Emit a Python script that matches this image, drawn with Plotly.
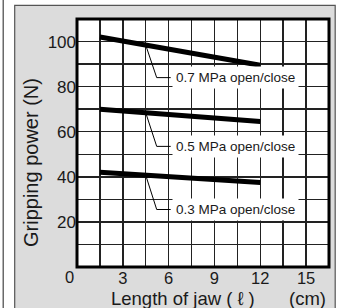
import plotly.graph_objects as go

# ---- data ----
jaw_length = [1.5, 12]                      # cm
series_names = ["0.7 MPa open/close", "0.5 MPa open/close", "0.3 MPa open/close"]
grip_07 = [102, 89.5]
grip_05 = [70, 64.5]
grip_03 = [42, 37.5]
label_y = [84, 53.5, 25.5]                  # label centre values
leader_x = 4.5                              # where leader touches the curve
x_tick_vals = [3, 6, 9, 12, 15]
x_tick_text = ["3", "6", "9", "12", "15"]
y_tick_vals = [20, 40, 60, 80, 100]
y_tick_text = ["20", "40", "60", "80", "100"]

W, H = 343, 308
L, R, T, B = 77.3, 329.3, 18.7, 266.7
PW, PH = R - L, B - T
X0, X1 = 0, 16.5
Y0, Y1 = 0, 110

def px(xp):  # pixel -> paper x
    return (xp - L) / PW

def py(yp):  # pixel -> paper y
    return (B - yp) / PH

def dx(xp):  # pixel -> data x
    return X0 + (xp - L) / PW * (X1 - X0)

TXT = "#1a1a1a"
FONT = "Liberation Sans, Arial"
fig = go.Figure()
series = [grip_07, grip_05, grip_03]
for name, ys in zip(series_names, series):
    fig.add_trace(go.Scatter(x=jaw_length, y=ys, mode="lines", name=name,
                             line=dict(color="black", width=5), showlegend=False,
                             hoverinfo="skip"))

shapes = []
# outer decorations
shapes.append(dict(type="line", xref="paper", yref="paper", x0=px(3.5), x1=px(3.5),
                   y0=py(-5), y1=py(315), line=dict(color="#444", width=1.2), layer="below"))
shapes.append(dict(type="rect", xref="paper", yref="paper", x0=px(15), x1=px(335.5),
                   y0=py(320), y1=py(5), fillcolor="#dcdcdc",
                   line=dict(color="#555", width=1.2), layer="below"))
shapes.append(dict(type="rect", xref="paper", yref="paper", x0=0, x1=1, y0=0, y1=1,
                   fillcolor="white", line=dict(width=0), layer="below"))
shapes.append(dict(type="rect", xref="paper", yref="paper", x0=0, x1=1, y0=0, y1=1,
                   line=dict(color="black", width=3), layer="above"))

annotations = []
for name, ys, ly in zip(series_names, series, label_y):
    t = (leader_x - jaw_length[0]) / (jaw_length[1] - jaw_length[0])
    cy = ys[0] + t * (ys[1] - ys[0])
    xb = dx(157)
    xe = dx(171)
    shapes.append(dict(type="line", xref="x", yref="y", x0=leader_x, y0=cy, x1=xb, y1=ly,
                       line=dict(color="black", width=1), layer="above"))
    shapes.append(dict(type="line", xref="x", yref="y", x0=xb, y0=ly, x1=xe, y1=ly,
                       line=dict(color="black", width=1), layer="above"))
    annotations.append(dict(x=dx(172), y=ly, xref="x", yref="y", xanchor="left",
                            yanchor="middle", text=name, showarrow=False,
                            bgcolor="white", borderpad=3,
                            font=dict(family=FONT, size=13.5, color=TXT)))

annotations.append(dict(x=px(70), y=py(277), xref="paper", yref="paper", text="0",
                        showarrow=False, xanchor="center", yanchor="middle",
                        font=dict(family=FONT, size=16.5, color=TXT)))
annotations.append(dict(x=px(31.5), y=py(162.5), xref="paper", yref="paper",
                        text="Gripping power (N)", textangle=-90, showarrow=False,
                        xanchor="center", yanchor="middle",
                        font=dict(family=FONT, size=20, color=TXT)))
annotations.append(dict(x=px(183), y=py(298), xref="paper", yref="paper",
                        text="Length of jaw ( ℓ )", showarrow=False,
                        xanchor="center", yanchor="middle",
                        font=dict(family=FONT, size=18.5, color=TXT)))
annotations.append(dict(x=px(307.5), y=py(298), xref="paper", yref="paper",
                        text="(cm)", showarrow=False, xanchor="center", yanchor="middle",
                        font=dict(family=FONT, size=18.5, color=TXT)))

GRID = "#222"
fig.update_layout(
    width=W, height=H,
    margin=dict(l=L, r=W - R, t=T, b=H - B, pad=0),
    paper_bgcolor="white", plot_bgcolor="rgba(0,0,0,0)",
    shapes=shapes, annotations=annotations, hovermode=False,
    xaxis=dict(range=[X0, X1], tickvals=x_tick_vals, ticktext=x_tick_text,
               showgrid=True, gridcolor=GRID, gridwidth=1.5, zeroline=False,
               showline=False, ticks="", fixedrange=True, ticklabelstandoff=-1,
               minor=dict(dtick=1.5, tick0=0, showgrid=True, gridcolor=GRID, gridwidth=1.5),
               tickfont=dict(family=FONT, size=16.5, color=TXT)),
    yaxis=dict(range=[Y0, Y1], tickvals=y_tick_vals, ticktext=y_tick_text,
               showgrid=True, gridcolor=GRID, gridwidth=1.5, zeroline=False,
               showline=False, ticks="", fixedrange=True,
               minor=dict(dtick=10, tick0=0, showgrid=True, gridcolor=GRID, gridwidth=1.5),
               tickfont=dict(family=FONT, size=17, color=TXT)),
    font=dict(family=FONT, color=TXT),
)

fig.write_html("out.html", config={"displayModeBar": False, "staticPlot": True},
               post_script="document.body.style.margin='0';document.body.style.overflow='hidden';")
